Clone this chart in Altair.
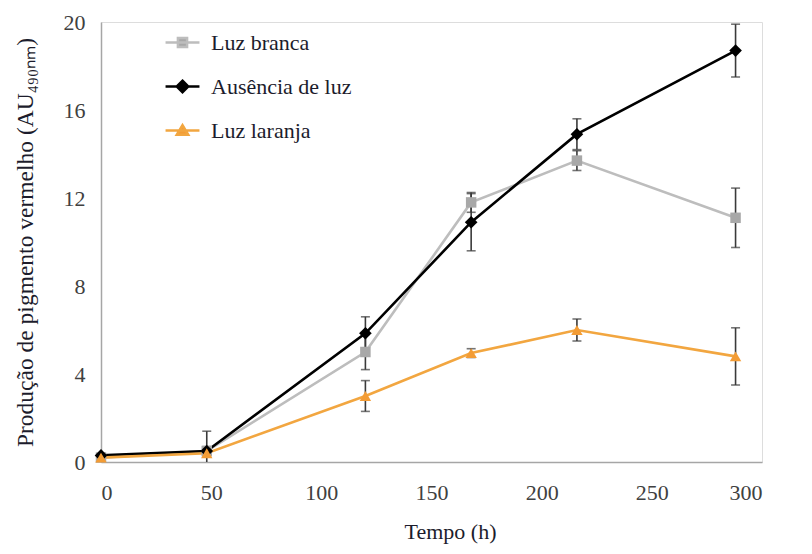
import altair as alt
import pandas as pd

# ---- data ----
series_names = ["Luz branca", "Ausência de luz", "Luz laranja"]
times = [0, 48, 120, 168, 216, 288]
luz_branca = [0.2, 0.5, 5.0, 11.8, 13.7, 11.1]
luz_branca_err = [0.1, 0.2, 0.8, 0.45, 0.45, 1.35]
ausencia = [0.3, 0.5, 5.85, 10.9, 14.9, 18.7]
ausencia_err = [0.1, 0.9, 0.75, 1.3, 0.7, 1.2]
luz_laranja = [0.2, 0.4, 3.0, 4.95, 6.0, 4.8]
luz_laranja_err = [0.1, 0.1, 0.7, 0.2, 0.5, 1.3]

x_ticks = [0, 50, 100, 150, 200, 250, 300]
y_ticks = [0, 4, 8, 12, 16, 20]

line_colors = ["#BDBDBD", "#000000", "#F2A640"]
point_colors = ["#A8A8A8", "#000000", "#F39C35"]
shapes = ["square", "diamond", "triangle-up"]
point_sizes = [110, 160, 130]
legend_paths = [
    "M-1,0H1M-0.27,-0.27H0.27V0.27H-0.27Z",
    "M-1,0H1M0,-0.34L0.34,0L0,0.34L-0.34,0Z",
    "M-1,0H1M0,-0.32L0.34,0.25H-0.34Z",
]

rows = []
for name, vals, errs in [
    (series_names[0], luz_branca, luz_branca_err),
    (series_names[1], ausencia, ausencia_err),
    (series_names[2], luz_laranja, luz_laranja_err),
]:
    for t, v, e in zip(times, vals, errs):
        rows.append({"serie": name, "t": t, "v": v, "lo": v - e, "hi": v + e})
df = pd.DataFrame(rows)

FONT = "Liberation Serif"
TXT = "#1c1c2c"

x_enc = alt.X(
    "t:Q",
    scale=alt.Scale(domain=[0, 300], nice=False),
    axis=alt.Axis(
        values=x_ticks, grid=False, ticks=False, domainColor="#A6A6A6", domainWidth=1.5,
        labelFont=FONT, labelFontSize=22, labelColor="#404040", labelPadding=20,
        title="Tempo (h)", titleFont=FONT, titleFontSize=22, titleFontWeight="normal",
        titleColor=TXT, titlePadding=18, titleX=349, titleAlign="center",
    ),
)
y_enc = alt.Y(
    "v:Q",
    scale=alt.Scale(domain=[0, 20], nice=False),
    axis=alt.Axis(
        values=y_ticks, grid=False, ticks=False, domainColor="#A6A6A6", domainWidth=1.5,
        labelFont=FONT, labelFontSize=22, labelColor="#404040", labelPadding=16,
        title="Produção de pigmento vermelho (AU₄₉₀ₙₘ)", titleFont=FONT, titleFontSize=23.5,
        titleFontWeight="normal", titleColor=TXT, titlePadding=26,
    ),
)

base = alt.Chart(df)

line_layers = []
for i, (name, col) in enumerate(zip(series_names, line_colors)):
    enc = dict(x=x_enc, y=y_enc) if i == 0 else dict(x="t:Q", y="v:Q")
    line_layers.append(
        base.transform_filter(alt.datum.serie == name)
        .mark_line(strokeWidth=2.6, color=col)
        .encode(order="t:Q", **enc)
    )

err_rule = base.mark_rule(color="#3a3a3a", strokeWidth=1.6, clip=True).encode(
    x="t:Q", y="lo:Q", y2="hi:Q"
)
err_lo = base.mark_tick(color="#3a3a3a", orient="horizontal", size=9, thickness=1.6, clip=True).encode(
    x="t:Q", y="lo:Q"
)
err_hi = base.mark_tick(color="#3a3a3a", orient="horizontal", size=9, thickness=1.6, clip=True).encode(
    x="t:Q", y="hi:Q"
)

point_layers = []
for name, col, shp, sz in zip(series_names, point_colors, shapes, point_sizes):
    point_layers.append(
        base.transform_filter(alt.datum.serie == name)
        .mark_point(filled=True, size=sz, opacity=1, shape=shp, color=col)
        .encode(x="t:Q", y="v:Q")
    )

leg_common = dict(
    title=None, orient="none", legendX=63, legendY=2, labelFont=FONT, labelFontSize=22,
    labelColor=TXT, labelOffset=10, rowPadding=14, padding=0, symbolStrokeWidth=2.5,
    symbolSize=1150,
)
legend_layer = (
    alt.Chart(df)
    .transform_filter("false")
    .mark_point(filled=True, size=1150, opacity=1, strokeWidth=2.5)
    .encode(
        x="t:Q", y="v:Q",
        fill=alt.Fill("serie:N", scale=alt.Scale(domain=series_names, range=point_colors),
                      legend=alt.Legend(**leg_common)),
        stroke=alt.Stroke("serie:N", scale=alt.Scale(domain=series_names, range=line_colors),
                          legend=alt.Legend(**leg_common)),
        shape=alt.Shape("serie:N", scale=alt.Scale(domain=series_names, range=legend_paths),
                        legend=alt.Legend(**leg_common)),
    )
)

chart = (
    alt.layer(*line_layers, err_rule, err_lo, err_hi, *point_layers, legend_layer)
    .properties(
        width=661, height=440,
        autosize=alt.AutoSizeParams(type="none"),
        padding={"left": 93, "top": 14, "right": 42, "bottom": 84},
    )
    .configure_view(stroke=None)
    .configure(background="white")
)

chart.save("out.html", embed_options={"renderer": "svg", "actions": False})
